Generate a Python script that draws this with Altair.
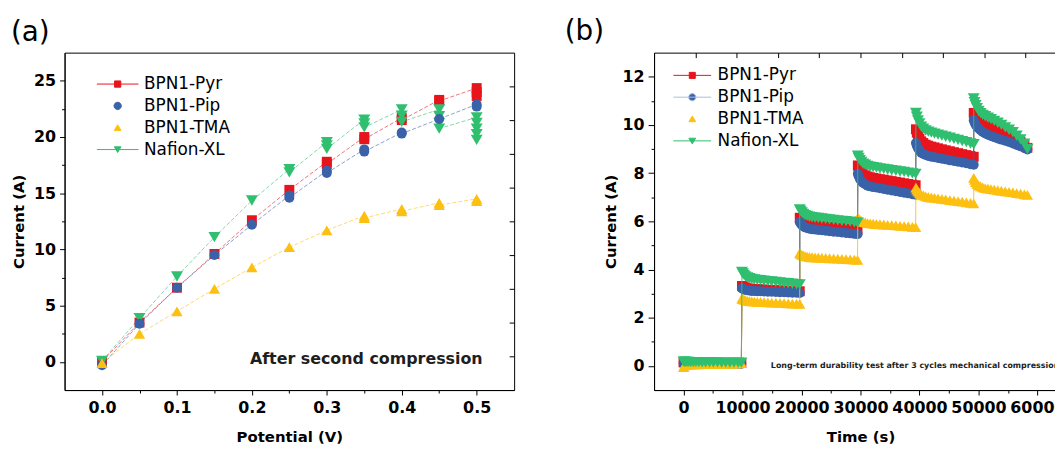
import altair as alt
import pandas as pd

FONT = "DejaVu Sans"

SERIES = ["BPN1-Pyr", "BPN1-Pip", "BPN1-TMA", "Nafion-XL"]
COLORS = ["#e8141c", "#3a62a9", "#fdc010", "#2fbf6f"]
SHAPES = ["square", "circle", "triangle-up", "triangle-down"]
MARK_SIZES = [100, 100, 130, 145]

# ---------------- panel (a): current vs potential ----------------
potential = [0.0, 0.05, 0.10, 0.15, 0.20, 0.25, 0.30, 0.35, 0.40, 0.45, 0.50]
a_pyr = [[0.05], [3.5], [6.6], [9.6], [12.6], [15.3], [17.8, 17.6], [20.0, 19.8],
         [21.7, 21.5], [23.3, 23.2], [24.35, 24.0, 23.65]]
a_pip = [[-0.3], [3.4], [6.6], [9.5], [12.2], [14.8, 14.6], [17.0, 16.8], [18.9, 18.7],
         [20.4, 20.3], [21.6], [22.9, 22.7]]
a_tma = [[-0.1], [2.5], [4.5], [6.5], [8.4], [10.2], [11.7], [13.0, 12.8], [13.6, 13.4],
         [14.15, 13.95], [14.5, 14.3]]
a_naf = [[0.1], [3.9], [7.6], [11.1], [14.35], [17.15, 16.85], [19.55, 19.25, 18.95],
         [21.55, 21.2, 20.85], [22.45, 21.9, 21.35], [22.45, 21.85, 21.25, 20.75],
         [21.75, 21.25, 20.75, 20.25, 19.75]]
a_x_ticks = [0.0, 0.1, 0.2, 0.3, 0.4, 0.5]
a_x_minor = [0.05, 0.15, 0.25, 0.35, 0.45]
a_y_ticks = [0, 5, 10, 15, 20, 25]
a_y_minor = [2.5, 7.5, 12.5, 17.5, 22.5]
a_y_right = [0.5, 3.5, 6.5, 9.5, 12.5, 15.5, 18.5, 21.5, 24.5]
a_x_domain = [-0.05, 0.55]
a_y_domain = [-2.5, 27.5]
a_note = ["After second compression"]
a_note_x = [0.508]
a_note_y = [0.3]

# ---------------- panel (b): current vs time ----------------
b_seg_start = [0, 9900, 19700, 29550, 39400, 49200]
b_offsets = [0, 150, 350, 600, 900, 1250, 1650, 2100, 2600, 3150, 3750, 4400, 5050,
             5750, 6450, 7150, 7850, 8550, 9250, 9800]
b_offsets_last = [0, 140, 320, 560, 840, 1160, 1530, 1950, 2420, 2920, 3480, 4080, 4690,
                  5340, 5990, 6640, 7290, 7940, 8590, 9100]
b_pyr = [
    [0.15, 0.15, 0.14, 0.14, 0.14, 0.14, 0.13, 0.13, 0.13, 0.13, 0.13, 0.13, 0.12, 0.12, 0.12, 0.12, 0.12, 0.12, 0.12, 0.12],
    [3.32, 3.29, 3.27, 3.25, 3.22, 3.21, 3.20, 3.19, 3.18, 3.18, 3.17, 3.16, 3.15, 3.15, 3.14, 3.13, 3.12, 3.11, 3.11, 3.10],
    [6.15, 6.09, 6.03, 5.98, 5.93, 5.91, 5.88, 5.86, 5.84, 5.83, 5.81, 5.80, 5.78, 5.76, 5.74, 5.73, 5.71, 5.69, 5.67, 5.66],
    [8.32, 8.22, 8.12, 8.04, 7.96, 7.91, 7.86, 7.83, 7.80, 7.78, 7.75, 7.73, 7.70, 7.67, 7.64, 7.61, 7.58, 7.55, 7.52, 7.50],
    [9.82, 9.68, 9.55, 9.43, 9.32, 9.25, 9.18, 9.14, 9.10, 9.07, 9.03, 8.99, 8.95, 8.91, 8.87, 8.83, 8.79, 8.75, 8.71, 8.68],
    [10.50, 10.42, 10.35, 10.28, 10.21, 10.15, 10.09, 10.03, 9.97, 9.91, 9.85, 9.78, 9.71, 9.64, 9.56, 9.48, 9.39, 9.29, 9.17, 9.05],
]
b_pip = [
    [0.12, 0.12, 0.11, 0.11, 0.11, 0.11, 0.10, 0.10, 0.10, 0.10, 0.10, 0.10, 0.10, 0.09, 0.09, 0.09, 0.09, 0.09, 0.09, 0.09],
    [3.22, 3.20, 3.17, 3.16, 3.14, 3.13, 3.11, 3.11, 3.10, 3.10, 3.09, 3.08, 3.08, 3.07, 3.06, 3.06, 3.05, 3.04, 3.04, 3.03],
    [5.97, 5.91, 5.85, 5.80, 5.75, 5.72, 5.69, 5.67, 5.66, 5.64, 5.63, 5.61, 5.59, 5.57, 5.56, 5.54, 5.52, 5.50, 5.48, 5.47],
    [7.97, 7.87, 7.76, 7.67, 7.59, 7.54, 7.48, 7.45, 7.42, 7.40, 7.37, 7.34, 7.31, 7.28, 7.25, 7.22, 7.19, 7.16, 7.12, 7.10],
    [9.25, 9.14, 9.03, 8.94, 8.85, 8.80, 8.75, 8.71, 8.68, 8.66, 8.63, 8.60, 8.57, 8.53, 8.50, 8.47, 8.44, 8.41, 8.37, 8.35],
    [10.20, 10.10, 10.01, 9.93, 9.85, 9.78, 9.71, 9.65, 9.59, 9.54, 9.49, 9.44, 9.39, 9.34, 9.29, 9.23, 9.17, 9.11, 9.04, 8.98],
]
b_tma = [
    [-0.05, 0.02, 0.05, 0.06, 0.06, 0.07, 0.07, 0.07, 0.07, 0.08, 0.08, 0.08, 0.08, 0.08, 0.09, 0.09, 0.10, 0.10, 0.11, 0.12],
    [2.80, 2.77, 2.75, 2.73, 2.70, 2.69, 2.68, 2.67, 2.66, 2.66, 2.65, 2.64, 2.63, 2.63, 2.62, 2.61, 2.60, 2.59, 2.59, 2.58],
    [4.68, 4.65, 4.61, 4.59, 4.56, 4.54, 4.52, 4.51, 4.50, 4.50, 4.49, 4.48, 4.47, 4.46, 4.45, 4.44, 4.43, 4.42, 4.41, 4.40],
    [6.15, 6.10, 6.06, 6.02, 5.98, 5.96, 5.93, 5.92, 5.90, 5.89, 5.88, 5.87, 5.85, 5.84, 5.83, 5.81, 5.80, 5.79, 5.77, 5.76],
    [7.40, 7.32, 7.24, 7.18, 7.11, 7.08, 7.04, 7.01, 6.99, 6.97, 6.95, 6.93, 6.91, 6.88, 6.86, 6.84, 6.82, 6.79, 6.77, 6.75],
    [7.80, 7.72, 7.63, 7.56, 7.49, 7.45, 7.41, 7.38, 7.36, 7.34, 7.32, 7.29, 7.27, 7.24, 7.22, 7.20, 7.17, 7.15, 7.12, 7.10],
]
b_naf = [
    [0.18, 0.18, 0.17, 0.17, 0.17, 0.16, 0.16, 0.16, 0.16, 0.15, 0.15, 0.15, 0.15, 0.15, 0.14, 0.14, 0.14, 0.14, 0.14, 0.14],
    [3.90, 3.84, 3.78, 3.72, 3.67, 3.64, 3.61, 3.59, 3.57, 3.56, 3.54, 3.52, 3.51, 3.49, 3.47, 3.45, 3.43, 3.41, 3.39, 3.38],
    [6.50, 6.43, 6.37, 6.31, 6.26, 6.23, 6.19, 6.17, 6.15, 6.14, 6.12, 6.10, 6.08, 6.06, 6.04, 6.02, 6.01, 5.99, 5.96, 5.95],
    [8.72, 8.63, 8.54, 8.47, 8.39, 8.35, 8.30, 8.27, 8.25, 8.23, 8.20, 8.18, 8.15, 8.12, 8.10, 8.07, 8.05, 8.02, 7.99, 7.97],
    [10.50, 10.34, 10.19, 10.06, 9.93, 9.85, 9.77, 9.72, 9.68, 9.64, 9.60, 9.56, 9.51, 9.47, 9.42, 9.38, 9.33, 9.29, 9.23, 9.20],
    [11.10, 10.95, 10.82, 10.70, 10.58, 10.49, 10.42, 10.36, 10.30, 10.24, 10.17, 10.09, 10.00, 9.90, 9.80, 9.70, 9.55, 9.40, 9.22, 9.00],
]
b_x_ticks = [0, 10000, 20000, 30000, 40000, 50000, 60000]
b_x_minor = [5000, 15000, 25000, 35000, 45000, 55000]
b_x_top = [2000, 9000, 16000, 23000, 30000, 37000, 44000, 51000, 58000]
b_y_ticks = [0, 2, 4, 6, 8, 10, 12]
b_y_minor = [1, 3, 5, 7, 9, 11]
b_x_domain = [-5000, 65000]
b_y_domain = [-1, 13]
b_note = ["Long-term durability test after 3 cycles mechanical compression"]
b_note_x = [14800]
b_note_y = [0.0]

# legend symbols (line + marker drawn as custom paths)
a_leg_paths = [
    "M-1,0H1M-0.15,-0.15H0.15V0.15H-0.15Z",
    "M0.175,0A0.175,0.175,0,1,1,-0.175,0A0.175,0.175,0,1,1,0.175,0Z",
    "M0,-0.14L0.16,0.13L-0.16,0.13Z",
    "M-1,0H1M-0.16,-0.13L0.16,-0.13L0,0.14Z",
]
b_leg_paths = [
    "M-1,0H1M-0.16,-0.16H0.16V0.16H-0.16Z",
    "M-1,0H1M0.19,0A0.19,0.19,0,1,1,-0.19,0A0.19,0.19,0,1,1,0.19,0Z",
    "M0,-0.16L0.18,0.14L-0.18,0.14Z",
    "M-1,0H1M-0.18,-0.14L0.18,-0.14L0,0.16Z",
]
b_leg_stroke = ["#e8141c", "#a9bcdc", "#fdc010", "#2fbf6f"]


def axis(**kw):
    base = dict(grid=False, labelFont=FONT, labelFontSize=16, labelFontWeight="bold",
                labelColor="black", titleFont=FONT, titleFontSize=15, titleFontWeight="bold",
                titleColor="black", tickColor="black", tickWidth=1, domainColor="black",
                domainWidth=1, labelOverlap=False, labelFlush=False)
    base.update(kw)
    return alt.Axis(**base)


def bare(orient, values, size, offset=0):
    return axis(orient=orient, values=values, tickSize=size, labels=False, domain=False,
                title=None, offset=offset)


# ---------- build tables ----------
rows_a = []
for s, vals in zip(SERIES, [a_pyr, a_pip, a_tma, a_naf]):
    k = 0
    for x, ys in zip(potential, vals):
        for y in ys:
            rows_a.append({"series": s, "x": x, "y": y, "k": k})
            k += 1
df_a = pd.DataFrame(rows_a)

rows_b = []
for s, segs in zip(SERIES, [b_pyr, b_pip, b_tma, b_naf]):
    k = 0
    for i, (t0, ys) in enumerate(zip(b_seg_start, segs)):
        offs = b_offsets_last if i == len(b_seg_start) - 1 else b_offsets
        for o, y in zip(offs, ys):
            rows_b.append({"series": s, "x": t0 + o, "y": y, "k": k})
            k += 1
df_b = pd.DataFrame(rows_b)


def panel(df, xdom, ydom, axes_list, draw_order, line_kw, leg_paths, leg_stroke, legend,
          note, note_x, note_y, note_size, width, height, title_text, title_dx):
    xs = alt.Scale(domain=xdom, nice=False, zero=False)
    ys = alt.Scale(domain=ydom, nice=False, zero=False)
    layers = []
    ai = 0

    def xy(xname, yname):
        nonlocal ai
        if ai < len(axes_list):
            xa, ya = axes_list[ai]
        else:
            xa, ya = None, None
        ai += 1
        return dict(x=alt.X(xname, scale=xs, axis=xa), y=alt.Y(yname, scale=ys, axis=ya))

    for idx in draw_order:
        sub = df[df["series"] == SERIES[idx]]
        line = alt.Chart(sub).mark_line(color=COLORS[idx], **line_kw).encode(
            order=alt.Order("k:Q"), **xy("x:Q", "y:Q"))
        pts = alt.Chart(sub).mark_point(filled=True, opacity=1, size=MARK_SIZES[idx],
                                        shape=SHAPES[idx], color=COLORS[idx]).encode(
            **xy("x:Q", "y:Q"))
        layers += [line, pts]

    first = df.groupby("series", sort=False).head(1)
    leg_layer = alt.Chart(first).mark_point(filled=True).encode(
        color=alt.Color("series:N", scale=alt.Scale(domain=SERIES, range=COLORS), legend=legend),
        stroke=alt.Stroke("series:N", scale=alt.Scale(domain=SERIES, range=leg_stroke), legend=legend),
        shape=alt.Shape("series:N", scale=alt.Scale(domain=SERIES, range=leg_paths), legend=legend),
        opacity=alt.value(0),
        **xy("x:Q", "y:Q"))
    layers.append(leg_layer)

    note_df = pd.DataFrame({"x": note_x, "y": note_y, "t": note})
    txt = alt.Chart(note_df).mark_text(
        align=("right" if note_size > 10 else "left"), baseline="middle", font=FONT,
        fontSize=note_size, fontWeight="bold", color="#1e1e1e").encode(
        text="t:N", **xy("x:Q", "y:Q"))
    layers.append(txt)

    return alt.layer(*layers).resolve_axis(x="independent", y="independent").properties(
        width=width, height=height,
        title=alt.Title(title_text, anchor="start", frame="group", dx=title_dx, offset=-16,
                        baseline="alphabetic", font=FONT, fontSize=28, fontWeight="normal",
                        color="black"))


a_axes = [
    (axis(orient="bottom", values=a_x_ticks, format=".1f", tickSize=5, labelPadding=5,
          title="Potential (V)", titlePadding=14),
     axis(orient="left", values=a_y_ticks, tickSize=5, labelPadding=4,
          title="Current (A)", titlePadding=7)),
    (bare("bottom", a_x_minor, 3), bare("left", a_y_minor, 3)),
    (None, bare("right", a_y_right, 5, offset=-5)),
]
b_axes = [
    (axis(orient="bottom", values=b_x_ticks, format="d", tickSize=5, labelPadding=5,
          title="Time (s)", titlePadding=14),
     axis(orient="left", values=b_y_ticks, tickSize=6, labelPadding=4,
          title="Current (A)", titlePadding=4)),
    (bare("bottom", b_x_minor, 3), bare("left", b_y_minor, 3)),
    (bare("top", b_x_top, 5, offset=-5), None),
]

leg_common = dict(title=None, orient="none", symbolStrokeWidth=1, symbolOpacity=1,
                  labelFont=FONT, labelFontSize=17, labelColor="black", padding=0,
                  labelLimit=300, rowPadding=0)
leg_a = alt.Legend(legendX=32, legendY=21, symbolSize=1764, labelOffset=5, clipHeight=21.3,
                   **leg_common)
leg_b = alt.Legend(legendX=19, legendY=12, symbolSize=1444, labelOffset=6, clipHeight=21.8,
                   **leg_common)

left = panel(df_a, a_x_domain, a_y_domain, a_axes, [0, 3, 1, 2],
             dict(strokeWidth=1, strokeDash=[4, 2], opacity=0.6),
             a_leg_paths, COLORS, leg_a, a_note, a_note_x, a_note_y, 16,
             453, 340, "(a)", -54)
right = panel(df_b, b_x_domain, b_y_domain, b_axes, [0, 1, 2, 3],
              dict(strokeWidth=1, opacity=0.9),
              b_leg_paths, b_leg_stroke, leg_b, b_note, b_note_x, b_note_y, 8,
              416, 340, "(b)", -90)

chart = alt.hconcat(left, right, spacing=141, bounds="flush").resolve_scale(
    color="independent", shape="independent", stroke="independent"
).properties(
    autosize=alt.AutoSizeParams(type="none"),
    padding={"left": 57, "top": 42, "right": 998, "bottom": 399},
    background="white",
).configure_view(stroke="black", strokeWidth=1)

chart.save("out.html", embed_options={"renderer": "svg", "actions": False})
